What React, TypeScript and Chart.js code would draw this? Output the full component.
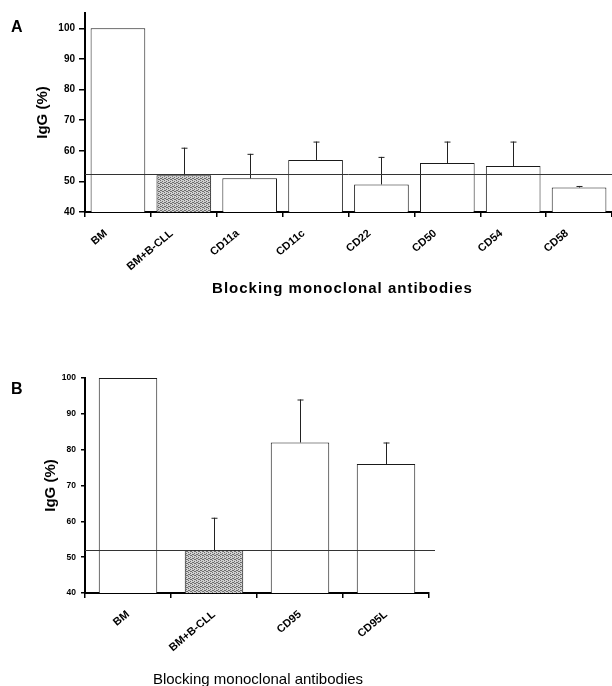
import React, { useEffect, useRef } from 'react';
import { Chart, registerables } from 'chart.js';

Chart.register(...registerables);

// ---- Data ----
const categoriesA = ['BM', 'BM+B-CLL', 'CD11a', 'CD11c', 'CD22', 'CD50', 'CD54', 'CD58'];
const valuesA = [100, 52, 51, 57, 49, 56, 55, 48];
const errorTopsA: (number | null)[] = [null, 61, 59, 63, 58, 63, 63, 48.5];
const referenceA = 52.3;
const yTicksA = [40, 50, 60, 70, 80, 90, 100];

const categoriesB = ['BM', 'BM+B-CLL', 'CD95', 'CD95L'];
const valuesB = [100, 52, 82, 76];
const errorTopsB: (number | null)[] = [null, 61, 94, 82];
const referenceB = 52;
const yTicksB = [40, 50, 60, 70, 80, 90, 100];

const yTitle = 'IgG (%)';
const xTitle = 'Blocking monoclonal antibodies';

const FONT = '"Liberation Sans", Arial, sans-serif';

function makeStipple(): CanvasPattern | string {
  const c = document.createElement('canvas');
  c.width = 4;
  c.height = 4;
  const ctx = c.getContext('2d');
  if (!ctx) return '#b0b0b0';
  ctx.fillStyle = '#d0d0d0';
  ctx.fillRect(0, 0, 4, 4);
  ctx.fillStyle = '#6e6e6e';
  const dots = [[0, 0], [2, 1], [1, 2], [3, 3], [2, 3], [0, 2]];
  dots.forEach(([x, y]) => ctx.fillRect(x, y, 1, 1));
  const p = ctx.createPattern(c, 'repeat');
  return p || '#b0b0b0';
}

interface PanelProps {
  categories: string[];
  values: number[];
  errorTops: (number | null)[];
  reference: number;
  yTicks: number[];
  yMax: number;
  width: number;
  height: number;
  top: number;
  padTop: number;
  padRight: number;
  xAxisHeight: number;
  barPct: number;
  yTickSize: number;
  yTickLen: number;
  yTickPad: number;
  yTitlePad: number;
  xLabelOffset: number;
  xLabelPad: number;
  refExtend: number;
}

function Panel(props: PanelProps) {
  const ref = useRef<HTMLCanvasElement | null>(null);
  useEffect(() => {
    if (!ref.current) return;
    const stipple = makeStipple();
    const fills = props.categories.map((_, i) => (i === 1 ? stipple : '#ffffff'));

    const extras = {
      id: 'extras',
      afterDatasetsDraw(chart: any) {
        const ctx = chart.ctx;
        const ys = chart.scales.y;
        const area = chart.chartArea;
        const meta = chart.getDatasetMeta(0);
        ctx.save();
        // error bars
        ctx.strokeStyle = '#222';
        ctx.lineWidth = 1;
        meta.data.forEach((bar: any, i: number) => {
          const e = props.errorTops[i];
          if (e == null) return;
          const x = Math.round(bar.x) + 0.5;
          const yTop = ys.getPixelForValue(e);
          ctx.beginPath();
          ctx.moveTo(x, bar.y);
          ctx.lineTo(x, yTop);
          ctx.moveTo(x - 3, yTop + 0.5);
          ctx.lineTo(x + 3, yTop + 0.5);
          ctx.stroke();
        });
        // reference line
        const yr = Math.round(ys.getPixelForValue(props.reference)) + 0.5;
        ctx.strokeStyle = '#333';
        ctx.beginPath();
        ctx.moveTo(area.left, yr);
        ctx.lineTo(area.right + props.refExtend, yr);
        ctx.stroke();
        ctx.restore();
      },
    };

    const chart = new Chart(ref.current, {
      type: 'bar',
      data: {
        labels: props.categories,
        datasets: [
          {
            data: props.values,
            backgroundColor: fills as any,
            borderColor: '#1a1a1a',
            borderWidth: 1,
            borderSkipped: 'start',
            barPercentage: props.barPct,
            categoryPercentage: 1,
          },
        ],
      },
      options: {
        responsive: false,
        animation: false,
        events: [],
        layout: { padding: { top: props.padTop, right: props.padRight, left: 0, bottom: 0 } },
        plugins: { legend: { display: false }, tooltip: { enabled: false }, title: { display: false } },
        scales: {
          x: {
            type: 'category',
            offset: true,
            grid: {
              offset: true,
              drawOnChartArea: false,
              drawTicks: true,
              tickLength: 5,
              color: '#000',
              lineWidth: 1.5,
            },
            border: { display: true, color: '#000', width: 2 },
            ticks: {
              autoSkip: false,
              minRotation: 40,
              maxRotation: 40,
              padding: props.xLabelPad,
              labelOffset: props.xLabelOffset,
              color: '#000',
              font: { family: FONT, size: 11, weight: 'bold' },
            },
            afterFit(scale: any) {
              scale.height = props.xAxisHeight;
            },
          },
          y: {
            type: 'linear',
            min: 40,
            max: props.yMax,
            grid: {
              drawOnChartArea: false,
              drawTicks: true,
              tickLength: props.yTickLen,
              color: '#000',
              lineWidth: 1.5,
            },
            border: { display: true, color: '#000', width: 2 },
            ticks: {
              padding: props.yTickPad,
              color: '#000',
              font: { family: FONT, size: props.yTickSize, weight: 'bold' },
            },
            afterBuildTicks(scale: any) {
              scale.ticks = props.yTicks.map((v) => ({ value: v }));
            },
            title: {
              display: true,
              text: yTitle,
              color: '#000',
              font: { family: FONT, size: 15, weight: 'bold' },
              padding: { top: props.yTitlePad, bottom: 0 },
            },
            afterFit(scale: any) {
              scale.width = 85;
            },
          },
        },
      },
      plugins: [extras],
    } as any);
    return () => chart.destroy();
  }, []);
  return (
    <canvas
      ref={ref}
      width={props.width}
      height={props.height}
      style={{ position: 'absolute', left: 0, top: props.top, width: props.width, height: props.height }}
    />
  );
}

const letterStyle: React.CSSProperties = {
  position: 'absolute',
  fontFamily: FONT,
  fontWeight: 'bold',
  fontSize: 16,
  lineHeight: '16px',
  color: '#000',
  whiteSpace: 'nowrap',
};

export default function App() {
  return (
    <div style={{ position: 'absolute', left: 0, top: 0, width: 612, height: 686, background: '#fff', overflow: 'hidden' }}>
      <Panel
        categories={categoriesA}
        values={valuesA}
        errorTops={errorTopsA}
        reference={referenceA}
        yTicks={yTicksA}
        yMax={105}
        width={612}
        height={300}
        top={0}
        padTop={13}
        padRight={0}
        xAxisHeight={88}
        barPct={0.83}
        yTickSize={10}
        yTickLen={6}
        yTickPad={4}
        yTitlePad={34}
        xLabelOffset={-12}
        xLabelPad={10}
        refExtend={0}
      />
      <Panel
        categories={categoriesB}
        values={valuesB}
        errorTops={errorTopsB}
        reference={referenceB}
        yTicks={yTicksB}
        yMax={100}
        width={612}
        height={346}
        top={340}
        padTop={38}
        padRight={183}
        xAxisHeight={93}
        barPct={0.68}
        yTickSize={8.5}
        yTickLen={4}
        yTickPad={5}
        yTitlePad={42}
        xLabelOffset={0}
        xLabelPad={10}
        refExtend={6}
      />
      <div style={{ ...letterStyle, left: 11, top: 18.6 }}>A</div>
      <div style={{ ...letterStyle, left: 11, top: 381 }}>B</div>
      <div
        style={{
          position: 'absolute',
          left: 342.5,
          top: 280,
          transform: 'translateX(-50%)',
          fontFamily: FONT,
          fontWeight: 'bold',
          fontSize: 15,
          lineHeight: '15px',
          letterSpacing: '1px',
          whiteSpace: 'nowrap',
          color: '#000',
        }}
      >
        {xTitle}
      </div>
      <div
        style={{
          position: 'absolute',
          left: 258,
          top: 671,
          transform: 'translateX(-50%)',
          fontFamily: FONT,
          fontWeight: 'normal',
          fontSize: 15,
          lineHeight: '15px',
          whiteSpace: 'nowrap',
          color: '#000',
        }}
      >
        {xTitle}
      </div>
    </div>
  );
}
